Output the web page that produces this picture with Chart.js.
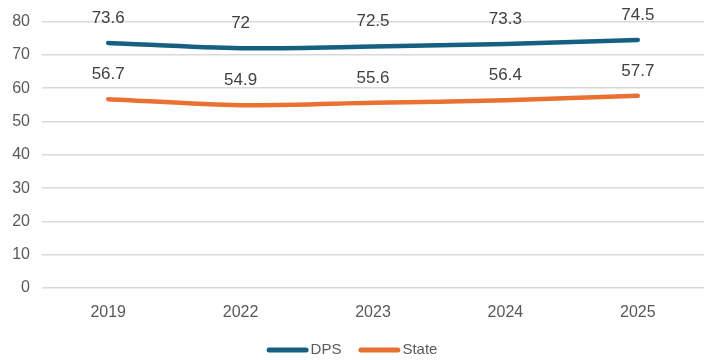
<!DOCTYPE html>
<html>
<head>
<meta charset="utf-8">
<script src="https://cdn.jsdelivr.net/npm/chart.js@4"></script>
<style>
  html, body { margin: 0; padding: 0; background: #ffffff; overflow: hidden; }
  #wrap { width: 704px; height: 360px; }
</style>
</head>
<body>
<div id="wrap"><canvas id="c" width="704" height="360"></canvas></div>
<script>
// Years shown on the horizontal axis
const years = ['2019', '2022', '2023', '2024', '2025'];
// Rates per year
const dpsValues = [73.6, 72, 72.5, 73.3, 74.5];
const stateValues = [56.7, 54.9, 55.6, 56.4, 57.7];
// Vertical axis ticks
const yTicks = [0, 10, 20, 30, 40, 50, 60, 70, 80];

const labelFont = "'Liberation Sans', Arial, sans-serif";

// Writes each point's value above it
const valueLabels = {
  id: 'valueLabels',
  afterDatasetsDraw(chart) {
    const ctx = chart.ctx;
    ctx.save();
    ctx.font = '17px ' + labelFont;
    ctx.fillStyle = '#404040';
    ctx.textAlign = 'center';
    ctx.textBaseline = 'middle';
    chart.data.datasets.forEach((ds, i) => {
      const meta = chart.getDatasetMeta(i);
      meta.data.forEach((pt, j) => {
        ctx.fillText(String(ds.data[j]), pt.x, pt.y - 25);
      });
    });
    ctx.restore();
  }
};

// Compact legend centred under the plot: a thick line swatch followed by the name
const bottomLegend = {
  id: 'bottomLegend',
  afterDraw(chart) {
    const ctx = chart.ctx;
    const swatch = 42, textGap = 2, itemGap = 17, y = 350;
    ctx.save();
    ctx.font = '15px ' + labelFont;
    ctx.textBaseline = 'middle';
    const items = chart.data.datasets.map(ds => ({
      text: ds.label, color: ds.borderColor, w: ctx.measureText(ds.label).width
    }));
    const total = items.reduce((s, it) => s + swatch + textGap + it.w, 0) + itemGap * (items.length - 1);
    let x = (chart.width - total) / 2;
    items.forEach(it => {
      ctx.strokeStyle = it.color;
      ctx.lineWidth = 5;
      ctx.lineCap = 'round';
      ctx.beginPath();
      ctx.moveTo(x + 2.5, y);
      ctx.lineTo(x + swatch - 2.5, y);
      ctx.stroke();
      x += swatch + textGap;
      ctx.fillStyle = '#595959';
      ctx.fillText(it.text, x, y);
      x += it.w + itemGap;
    });
    ctx.restore();
  }
};

new Chart(document.getElementById('c'), {
  type: 'line',
  data: {
    labels: years,
    datasets: [
      {
        label: 'DPS',
        data: dpsValues,
        borderColor: '#156082',
        backgroundColor: '#156082',
        borderWidth: 4.5,
        pointRadius: 0,
        borderCapStyle: 'round',
        tension: 0.3
      },
      {
        label: 'State',
        data: stateValues,
        borderColor: '#E97132',
        backgroundColor: '#E97132',
        borderWidth: 4.5,
        pointRadius: 0,
        borderCapStyle: 'round',
        tension: 0.3
      }
    ]
  },
  options: {
    responsive: false,
    animation: false,
    layout: { padding: { top: 15, right: 0, left: 0, bottom: 32 } },
    plugins: {
      tooltip: { enabled: false },
      legend: { display: false }
    },
    scales: {
      x: {
        offset: true,
        grid: { display: false },
        border: { display: false },
        ticks: {
          color: '#595959',
          font: { family: labelFont, size: 16 },
          padding: 7
        },
        afterFit(scale) { scale.height = 40; }
      },
      y: {
        min: 0,
        max: 80,
        afterBuildTicks(scale) { scale.ticks = yTicks.map(v => ({ value: v })); },
        grid: { color: '#d9d9d9', lineWidth: 1.5, drawTicks: false },
        border: { display: false },
        ticks: {
          color: '#595959',
          font: { family: labelFont, size: 16 },
          padding: 12
        },
        afterFit(scale) { scale.width = 42; }
      }
    }
  },
  plugins: [valueLabels, bottomLegend]
});
</script>
</body>
</html>
